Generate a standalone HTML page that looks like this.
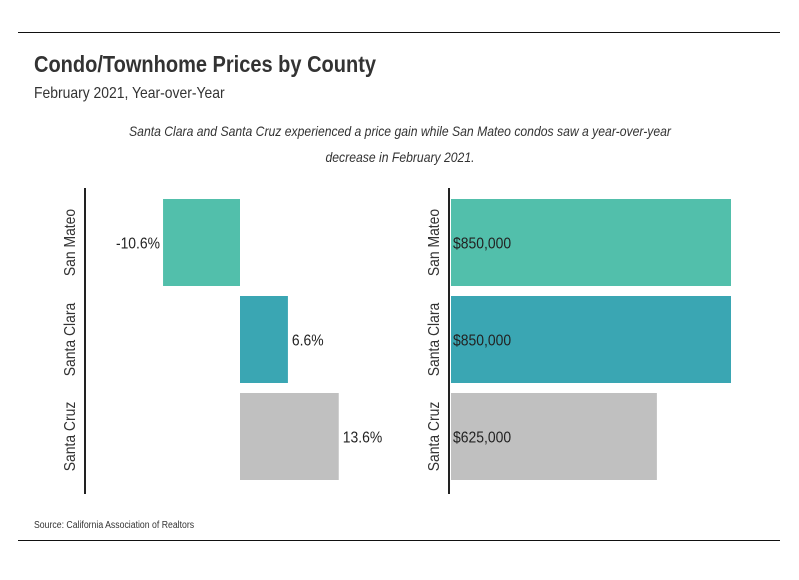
<!DOCTYPE html>
<html><head><meta charset="utf-8"><style>
body{margin:0;background:#fff;}
svg text{font-family:"Liberation Sans Narrow","Liberation Sans",sans-serif;}
</style></head><body>
<svg id="c" width="799" height="575" xmlns="http://www.w3.org/2000/svg">
<line x1="18" y1="32.5" x2="780" y2="32.5" stroke="#111" stroke-width="1"/>
<line x1="18" y1="540.5" x2="780" y2="540.5" stroke="#111" stroke-width="1"/>
<text x="34" y="72" font-size="23" font-weight="bold" fill="#333">Condo/Townhome Prices by County</text>
<text x="34" y="98" font-size="16" fill="#333">February 2021, Year-over-Year</text>
<text x="400" y="136" font-size="14" font-style="italic" fill="#333" text-anchor="middle">Santa Clara and Santa Cruz experienced a price gain while San Mateo condos saw a year-over-year</text>
<text x="400" y="162" font-size="14" font-style="italic" fill="#333" text-anchor="middle">decrease in February 2021.</text>
<line x1="85" y1="188" x2="85" y2="494" stroke="#222" stroke-width="2"/>
<line x1="449" y1="188" x2="449" y2="494" stroke="#222" stroke-width="2"/>
<text x="34" y="528" font-size="10" fill="#333">Source:  California Association of Realtors</text>
<g id="g"></g>
</svg>
<script>
const counties=["San Mateo","Santa Clara","Santa Cruz"];
const pctChange=[-10.6,6.6,13.6];
const pctLabels=["-10.6%","6.6%","13.6%"];
const prices=[850000,850000,625000];
const priceLabels=["$850,000","$850,000","$625,000"];
const colors=["#52bfab","#3aa6b3","#c0c0c0"];
const NS="http://www.w3.org/2000/svg";
const g=document.getElementById("g");
const zeroX=240,pxPerPct=7.26;
const xPct=v=>zeroX+v*pxPerPct;
const xPrice=v=>451+v*280/850000;
const bandTop=i=>194+i*97, barH=87;
function mk(t,a){const e=document.createElementNS(NS,t);for(const k in a)e.setAttribute(k,a[k]);g.appendChild(e);return e;}
counties.forEach((c,i)=>{
  const y=bandTop(i)+5, cy=y+barH/2;
  const v=pctChange[i];
  const x0=Math.min(xPct(0),xPct(v)), w=Math.abs(xPct(v)-xPct(0));
  const r=mk("rect",{x:x0,y:y,width:w,height:barH,fill:colors[i]});
  
  
  const t=mk("text",{x:v<0?x0-3:x0+w+4,y:cy+6,"font-size":16,fill:"#222","text-anchor":v<0?"end":"start"});
  t.textContent=pctLabels[i];
  
  
  const l1=mk("text",{x:0,y:0,"font-size":16,fill:"#333","text-anchor":"middle",transform:`translate(75,${cy}) rotate(-90)`});
  l1.textContent=c;
  
  
  const pr=mk("rect",{x:451,y:y,width:xPrice(prices[i])-451,height:barH,fill:colors[i]});
  
  
  const pt=mk("text",{x:453,y:cy+6,"font-size":16,fill:"#222"});
  pt.textContent=priceLabels[i];
  
  
  const l2=mk("text",{x:0,y:0,"font-size":16,fill:"#333","text-anchor":"middle",transform:`translate(439,${cy}) rotate(-90)`});
  l2.textContent=c;
  
  
});
document.querySelectorAll("svg text").forEach(t=>{
  const L=t.getComputedTextLength();
  t.setAttribute("textLength",(L*0.87).toFixed(1));
  t.setAttribute("lengthAdjust","spacingAndGlyphs");
});
</script>
</body></html>
